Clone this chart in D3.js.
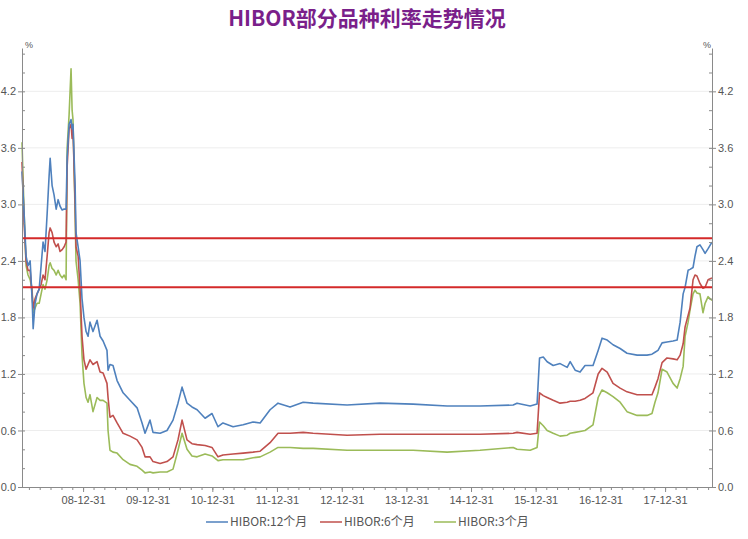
<!DOCTYPE html>
<html><head><meta charset="utf-8">
<script src="https://cdn.jsdelivr.net/npm/d3@7"></script>
<style>body{margin:0;background:#fff} svg{display:block}</style>
</head><body><svg id="c" width="748" height="539"></svg>
<script>
const dates = ["2008-01-21","2008-02-02","2008-02-13","2008-02-24","2008-03-07","2008-03-18","2008-03-24","2008-04-04","2008-04-15","2008-04-27","2008-05-08","2008-05-19","2008-05-30","2008-06-11","2008-06-22","2008-06-28","2008-07-09","2008-07-20","2008-08-01","2008-08-12","2008-08-23","2008-09-04","2008-09-15","2008-09-26","2008-10-02","2008-10-13","2008-10-24","2008-10-30","2008-11-04","2008-11-16","2008-11-21","2008-12-03","2008-12-14","2008-12-25","2009-01-05","2009-01-17","2009-01-28","2009-02-08","2009-02-25","2009-03-20","2009-04-06","2009-04-23","2009-05-15","2009-05-21","2009-06-01","2009-06-18","2009-07-11","2009-08-14","2009-09-22","2009-11-01","2009-11-29","2009-12-16","2010-01-13","2010-01-30","2010-03-11","2010-04-19","2010-05-23","2010-06-20","2010-07-13","2010-08-10","2010-09-07","2010-10-06","2010-11-20","2010-12-29","2011-02-01","2011-03-01","2011-04-27","2011-06-23","2011-08-18","2011-09-27","2011-11-22","2012-01-06","2012-03-14","2012-05-27","2012-07-22","2013-01-30","2013-08-04","2014-02-07","2014-08-18","2015-02-20","2015-08-26","2015-09-17","2015-11-30","2016-01-08","2016-01-22","2016-02-12","2016-03-05","2016-04-08","2016-05-17","2016-06-26","2016-07-13","2016-08-10","2016-09-07","2016-10-05","2016-11-19","2016-12-18","2017-01-09","2017-02-07","2017-03-12","2017-04-21","2017-05-30","2017-07-26","2017-09-20","2017-10-18","2017-11-04","2017-11-21","2017-12-14","2018-01-11","2018-02-14","2018-03-09","2018-03-26","2018-04-12","2018-04-23","2018-05-10","2018-05-21","2018-06-07","2018-06-18","2018-06-29","2018-07-16","2018-08-02","2018-08-14","2018-08-31","2018-09-22"];
const hibor12 = [3.35,2.90,2.45,2.35,2.40,2.00,1.68,1.95,2.05,2.10,2.35,2.60,2.50,2.90,3.30,3.49,3.20,3.10,2.95,3.05,2.98,2.94,2.95,2.95,3.50,3.85,3.90,3.80,3.85,3.20,2.70,2.55,2.40,2.00,1.80,1.65,1.60,1.75,1.65,1.77,1.60,1.55,1.45,1.24,1.30,1.29,1.13,1.00,0.92,0.84,0.68,0.57,0.71,0.58,0.57,0.60,0.71,0.89,1.06,0.89,0.85,0.82,0.73,0.78,0.64,0.68,0.64,0.66,0.69,0.68,0.82,0.89,0.85,0.90,0.89,0.87,0.89,0.88,0.86,0.86,0.87,0.89,0.86,0.88,1.37,1.38,1.33,1.29,1.31,1.27,1.33,1.24,1.22,1.29,1.29,1.45,1.58,1.56,1.51,1.47,1.42,1.40,1.40,1.41,1.43,1.45,1.53,1.54,1.55,1.56,1.75,2.05,2.12,2.30,2.31,2.33,2.45,2.55,2.57,2.52,2.48,2.53,2.60];
const hibor6 = [3.45,2.80,2.40,2.30,2.30,2.05,1.90,2.00,2.05,2.10,2.15,2.25,2.20,2.45,2.70,2.75,2.70,2.60,2.55,2.58,2.50,2.52,2.55,2.60,3.40,3.80,3.85,3.70,3.80,3.00,2.55,2.45,2.10,1.60,1.35,1.25,1.30,1.35,1.30,1.33,1.22,1.21,1.10,0.95,0.74,0.76,0.68,0.57,0.54,0.50,0.42,0.32,0.32,0.27,0.25,0.27,0.32,0.50,0.71,0.50,0.46,0.45,0.44,0.42,0.32,0.34,0.35,0.36,0.37,0.38,0.47,0.57,0.57,0.58,0.57,0.55,0.56,0.56,0.56,0.56,0.57,0.58,0.56,0.57,1.00,0.97,0.95,0.92,0.89,0.90,0.91,0.91,0.92,0.94,1.00,1.20,1.26,1.22,1.10,1.05,1.01,0.98,0.98,0.98,1.06,1.15,1.32,1.37,1.36,1.35,1.40,1.52,1.70,1.82,1.90,2.20,2.25,2.24,2.16,2.11,2.12,2.20,2.22];
const hibor3 = [3.66,2.90,2.35,2.25,2.20,2.10,1.85,1.90,1.95,1.95,2.05,2.15,2.10,2.20,2.35,2.38,2.32,2.30,2.25,2.30,2.25,2.22,2.25,2.20,3.60,3.95,4.44,4.00,3.90,2.90,2.40,2.20,1.95,1.40,1.10,0.95,0.90,0.98,0.80,0.95,0.92,0.92,0.89,0.60,0.39,0.37,0.36,0.29,0.24,0.22,0.18,0.15,0.16,0.15,0.16,0.16,0.19,0.39,0.57,0.40,0.33,0.32,0.35,0.33,0.28,0.29,0.29,0.29,0.31,0.32,0.37,0.42,0.42,0.41,0.41,0.39,0.39,0.39,0.37,0.39,0.42,0.40,0.39,0.42,0.69,0.65,0.60,0.57,0.54,0.55,0.57,0.58,0.59,0.60,0.66,0.95,1.03,1.00,0.96,0.90,0.80,0.76,0.76,0.78,0.90,1.00,1.25,1.22,1.10,1.05,1.15,1.28,1.60,1.75,1.88,2.05,2.09,2.06,2.05,1.85,1.95,2.02,1.98];
const refLines = [2.64, 2.12];
const yTicks = [0, 0.6, 1.2, 1.8, 2.4, 3.0, 3.6, 4.2];
const xTickDates = ["2008-12-31","2009-12-31","2010-12-31","2011-12-31","2012-12-31","2013-12-31","2014-12-31","2015-12-31","2016-12-31","2017-12-31"];
const xTickLabels = ["08-12-31","09-12-31","10-12-31","11-12-31","12-12-31","13-12-31","14-12-31","15-12-31","16-12-31","17-12-31"];
const seriesNames = ["HIBOR:12个月","HIBOR:6个月","HIBOR:3个月"];
const colors = ["#4f81bd","#c0504d","#9bbb59"];
const title = "HIBOR部分品种利率走势情况";

const parse = d3.timeParse("%Y-%m-%d");
const svg = d3.select("#c");
const L = 22, R = 712, T = 48, B = 487;
const x = d3.scaleTime().domain([parse("2008-01-21"), parse("2018-09-22")]).range([L, R]);
const y = d3.scaleLinear().domain([0, 4.66]).range([B, T]);
const font = "'Liberation Sans','Noto Sans CJK SC',sans-serif";
const axisCol = "#8a8a8a";

svg.append("rect").attr("width", 748).attr("height", 539).attr("fill", "#fff");

// title
svg.append("text").attr("x", 367).attr("y", 26).attr("text-anchor", "middle")
  .attr("font-family", "'Noto Sans CJK SC',sans-serif").attr("font-weight", "bold")
  .attr("font-size", 21).attr("fill", "#7a1f8a").text(title);

// grid
svg.append("g").selectAll("line").data(yTicks.slice(1)).join("line")
  .attr("x1", L).attr("x2", R).attr("y1", d => y(d)).attr("y2", d => y(d))
  .attr("stroke", "#ededed").attr("stroke-width", 1);

// series
const seriesData = [hibor12, hibor6, hibor3];
const line = d3.line().x(d => x(d[0])).y(d => y(d[1]));
[2, 1, 0].forEach(i => {
  const pts = dates.map((d, k) => [parse(d), seriesData[i][k]]);
  svg.append("path").datum(pts).attr("d", line).attr("fill", "none")
    .attr("stroke", colors[i]).attr("stroke-width", 1.6).attr("stroke-linejoin", "round");
});

// reference lines
svg.append("g").selectAll("line").data(refLines).join("line")
  .attr("x1", L).attr("x2", R).attr("y1", d => y(d)).attr("y2", d => y(d))
  .attr("stroke", "#d42a2a").attr("stroke-width", 2);

// axes
const minorY = d3.range(0, 4.61, 0.2);
function styleAxis(g) {
  g.selectAll(".domain").attr("stroke", axisCol);
  g.selectAll(".tick line").attr("stroke", axisCol);
  g.selectAll("text").attr("fill", "#555").attr("font-family", font).attr("font-size", 11);
}
const yl = svg.append("g").attr("transform", `translate(${L},0)`)
  .call(d3.axisLeft(y).tickValues(yTicks).tickFormat(d3.format(".1f")).tickSize(4).tickSizeOuter(0).tickPadding(2));
styleAxis(yl);
svg.append("g").attr("transform", `translate(${L},0)`)
  .call(d3.axisRight(y).tickValues(minorY).tickFormat("").tickSize(3).tickSizeOuter(0))
  .call(g => { g.select(".domain").remove(); g.selectAll("line").attr("stroke", axisCol); });
const yr = svg.append("g").attr("transform", `translate(${R},0)`)
  .call(d3.axisRight(y).tickValues(yTicks).tickFormat(d3.format(".1f")).tickSize(4).tickSizeOuter(0).tickPadding(2));
styleAxis(yr);
svg.append("g").attr("transform", `translate(${R},0)`)
  .call(d3.axisLeft(y).tickValues(minorY).tickFormat("").tickSize(3).tickSizeOuter(0))
  .call(g => { g.select(".domain").remove(); g.selectAll("line").attr("stroke", axisCol); });

const minorX = d3.timeMonth.every(2).range(parse("2008-03-01"), parse("2018-10-01")).map(d => d3.timeDay.offset(d, -1));
svg.append("g").attr("transform", `translate(0,${B})`)
  .call(d3.axisBottom(x).tickValues(minorX).tickFormat("").tickSize(3).tickSizeOuter(0))
  .call(g => { g.select(".domain").remove(); g.selectAll("line").attr("stroke", axisCol); });
const xa = svg.append("g").attr("transform", `translate(0,${B})`)
  .call(d3.axisBottom(x).tickValues(xTickDates.map(parse)).tickFormat((d, i) => xTickLabels[i]).tickSize(5).tickSizeOuter(0).tickPadding(4));
styleAxis(xa);

// % units
svg.append("text").attr("x", L + 3).attr("y", T).attr("font-size", 9).attr("fill", "#555").attr("font-family", font).text("%");
svg.append("text").attr("x", R - 9).attr("y", T).attr("font-size", 9).attr("fill", "#555").attr("font-family", font).text("%");

// legend
const legX = [206, 320, 434];
const lg = svg.append("g").attr("transform", "translate(0,522)");
seriesNames.forEach((n, i) => {
  lg.append("line").attr("x1", legX[i]).attr("x2", legX[i] + 22).attr("y1", 0).attr("y2", 0)
    .attr("stroke", colors[i]).attr("stroke-width", 1.5);
  lg.append("text").attr("x", legX[i] + 24).attr("y", 4).attr("font-size", 12)
    .attr("font-family", "'Noto Sans CJK SC',sans-serif").attr("fill", "#555").text(n);
});
</script>
</body></html>
